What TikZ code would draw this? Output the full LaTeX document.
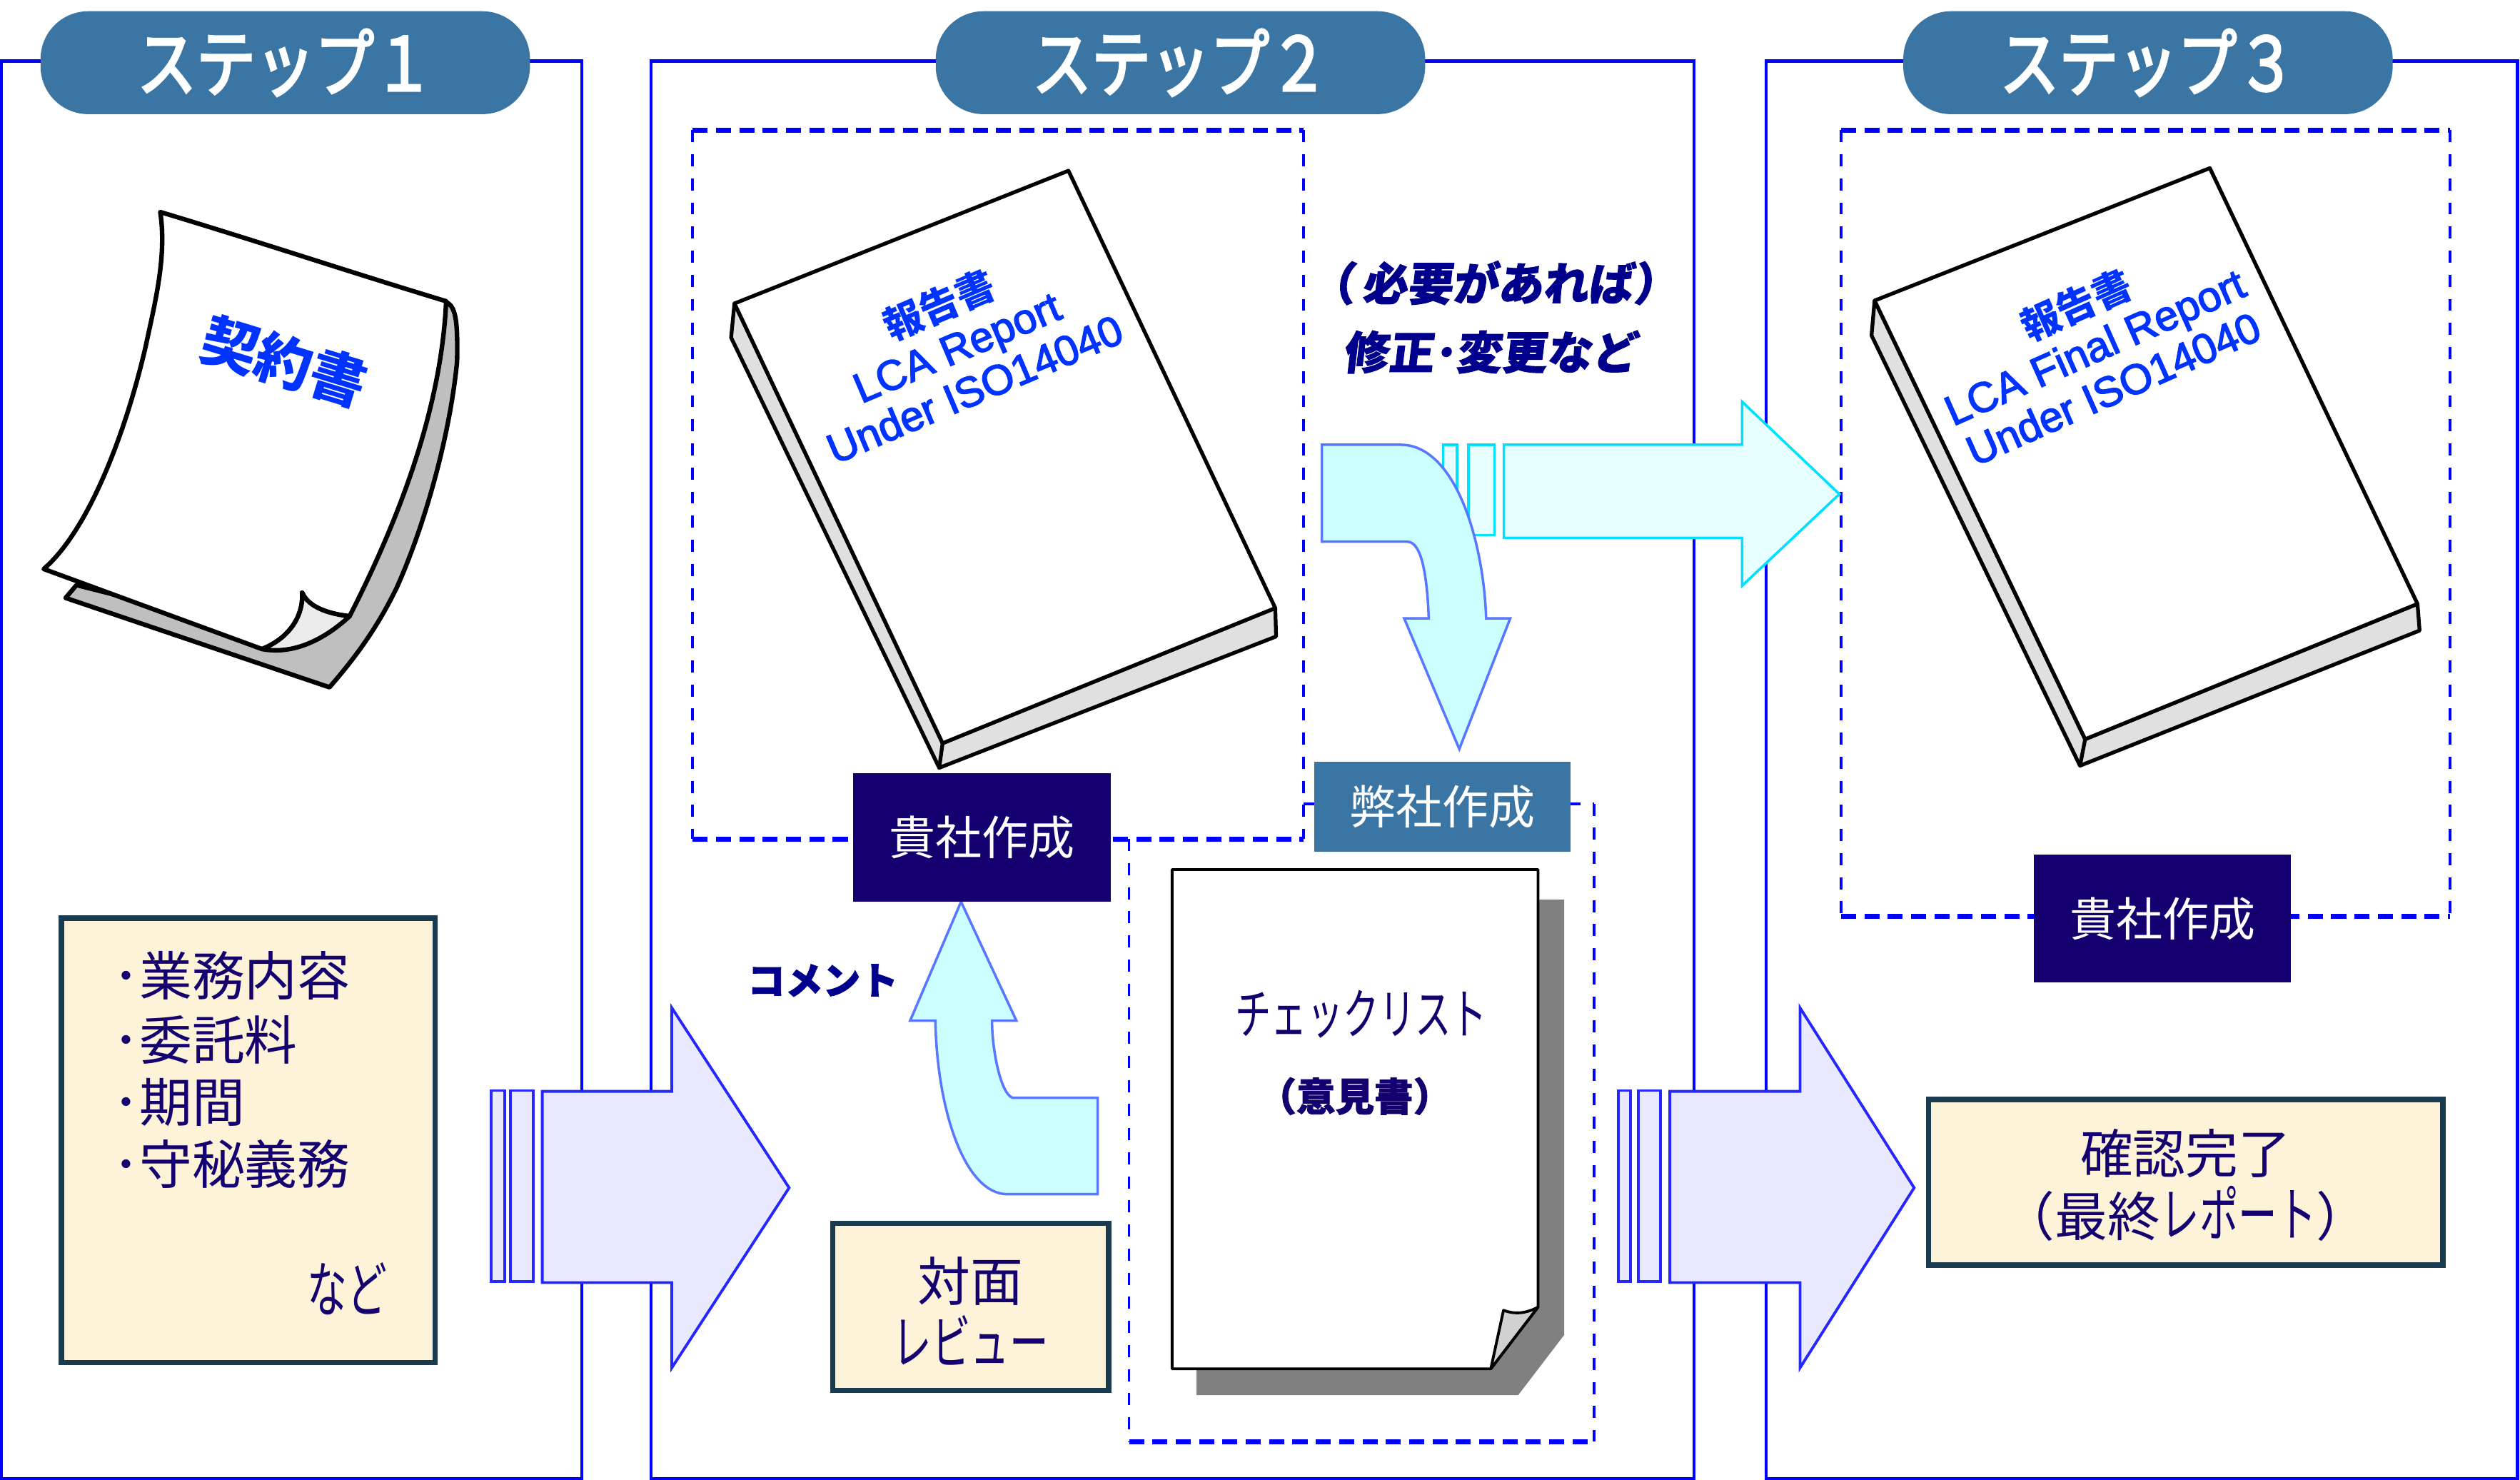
\documentclass[tikz,border=0pt]{standalone}
\usepackage{fontspec}
\setmainfont{Noto Sans CJK JP}
\newfontfamily\kanajp[FakeStretch=0.66, Scale=1.12]{Noto Sans CJK JP}
\newfontfamily\stepjp[FakeStretch=0.8, FakeBold=3]{Noto Sans CJK JP}
\newfontfamily\remarkjp[FakeSlant=0.12, BoldFeatures={FakeBold=1.5}]{Noto Sans CJK JP}
\newfontfamily\heavyjp[BoldFeatures={FakeBold=1.5}]{Noto Sans CJK JP}
\newfontfamily\latinbook[FakeBold=2.5]{Liberation Sans}
\newcommand{\reportword}{{\fontsize{15.5}{18.2}\selectfont\rmfamily\bfseries 報告書}}
\definecolor{panelblue}{RGB}{0,0,255}
\definecolor{badgeblue}{RGB}{58,117,163}
\definecolor{navy}{RGB}{20,0,110}
\definecolor{boxcream}{RGB}{253,243,217}
\definecolor{boxedge}{RGB}{26,58,80}
\definecolor{inkblue}{RGB}{0,0,140}
\definecolor{bookblue}{RGB}{0,51,255}
\definecolor{lavender}{RGB}{233,233,255}
\definecolor{paleaqua}{RGB}{232,255,255}
\definecolor{aqua}{RGB}{204,255,255}
\definecolor{aquaedge}{RGB}{90,120,255}
\definecolor{brightaqua}{RGB}{0,225,255}
\tikzset{
	panel/.style={panelblue, line width=1.25pt},
	dashside/.style={panelblue, line width=1.1pt, dash pattern=on 4.8pt off 4.8pt},
	dashflat/.style={panelblue, line width=2pt, dash pattern=on 6pt off 3.3pt},
	badge/.style={fill=badgeblue, text=white, rounded corners=19pt, minimum width=195pt, minimum height=41pt, inner sep=0pt, font=\stepjp\fontsize{29.5}{31}\selectfont},
	navybox/.style={fill=navy, text=white, minimum width=102.5pt, minimum height=51pt, inner sep=0pt, font=\fontsize{18.5}{20}\selectfont},
	tealbox/.style={fill=badgeblue, text=white, minimum width=102pt, minimum height=36pt, inner sep=0pt, font=\fontsize{18.5}{20}\selectfont},
	creambox/.style={fill=boxcream, draw=boxedge, line width=2.1pt, inner sep=0pt},
	bodytext/.style={text=navy, inner sep=0pt, align=center, font=\fontsize{21}{25}\selectfont},
	remark/.style={text=inkblue, inner sep=0pt, font=\remarkjp\bfseries\fontsize{18}{20}\selectfont},
	paper/.style={draw=black, fill=white, line width=1.8pt, line join=round},
	bookline/.style={draw=black, line width=1.5pt, line join=round},
	booktext/.style={text=bookblue, align=center, inner sep=0pt, font=\latinbook\fontsize{16.8}{18.2}\selectfont},
	bigarrow/.style={draw=panelblue!85!white, fill=lavender, line width=1.1pt},
	outarrow/.style={draw=brightaqua, fill=paleaqua, line width=1pt},
	bentarrow/.style={draw=aquaedge, fill=aqua, line width=1pt},
}
\begin{document}
\begin{tikzpicture}[x=0.022513cm, y=-0.022513cm]
	\useasboundingbox (0,0) rectangle (1568,920.8);

	% panels
	\draw[panel] (1,38) rectangle (362,920);
	\draw[panel] (405,38) rectangle (1054,920);
	\draw[panel] (1099,38) rectangle (1566.5,920);

	% dashed frames
	\foreach \xa/\ya/\yb in {431/81/522, 811/81/522, 992/500/897, 702.5/522/897, 1145.5/81/570, 1524.5/81/570}
		\draw[dashside] (\xa,\ya) -- (\xa,\yb);
	\foreach \y/\xa/\xb in {81/431/811, 522/431/811, 897/702.5/992, 81/1145.5/1524.5, 570/1145.5/1524.5}
		\draw[dashflat] (\xa,\y) -- (\xb,\y);
	\draw[dashside] (811,500) -- (992,500);

	% contract
	\draw[paper, fill=black!25] (275,187) .. controls (283,189) and (285,195) .. (284.4,225)
		.. controls (280,270) and (265,325) .. (247,365.3)
		.. controls (235,390) and (222,408) .. (205,427.6)
		-- (40.8,372) -- (47.6,364) -- (170,395) -- cycle;
	\draw[paper] (99.7,131.9) .. controls (160,150) and (220,170) .. (277.6,187.4)
		.. controls (275,245) and (255,310) .. (217.5,383.4)
		.. controls (205,382) and (192,378) .. (188,368.7)
		.. controls (189,385) and (178,398) .. (163,403.8)
		-- (27.2,354) .. controls (55,330) and (78,270) .. (90.6,215.7)
		.. controls (96,190) and (104,160) .. (99.7,131.9) -- cycle;
	\draw[paper, fill=black!8] (188,368.7) .. controls (189,385) and (178,398) .. (163,403.8)
		.. controls (185,408) and (205,395) .. (217.5,383.4)
		.. controls (205,382) and (192,378) .. (188,368.7) -- cycle;
	\node[rotate=-17, text=bookblue, inner sep=0pt, font=\bfseries\fontsize{22.5}{24}\selectfont] (contract) at (177,225) {契約書};

	% report, step 2
	\draw[bookline, fill=black!12] (457,188.8) -- (454.9,210) -- (584.4,477.7) -- (794,396) -- (793.5,378.3) -- (586.5,462.4) -- cycle;
	\draw[bookline] (586.5,462.4) -- (584.4,477.7);
	\draw[bookline, fill=white] (457,188.8) -- (664.8,106.2) -- (793.5,378.3) -- (586.5,462.4) -- cycle;
	\node[booktext, rotate=23] (reporta) at (595,215) {\reportword\\LCA Report\\Under ISO14040};

	% report, step 3
	\draw[bookline, fill=black!12] (1166.4,187) -- (1164.5,208.7) -- (1294.2,476.4) -- (1505.5,392.3) -- (1504.2,375.7) -- (1297.4,459.9) -- cycle;
	\draw[bookline] (1297.4,459.9) -- (1294.2,476.4);
	\draw[bookline, fill=white] (1166.4,187) -- (1375,104.6) -- (1504.2,375.7) -- (1297.4,459.9) -- cycle;
	\node[booktext, rotate=24] (reportb) at (1303,215) {\reportword\\LCA Final Report\\Under ISO14040};

	% checklist
	\fill[black!50] (957,559.7) -- (973.3,559.7) -- (973.3,830.5) -- (944.6,868) -- (744.5,868) -- (744.5,851) -- (927.6,851) -- cycle;
	\draw[paper, line width=1.1pt] (729.3,541) -- (957,541) -- (957,813.2) -- (927.6,851.6) -- (729.3,851.6) -- cycle;
	\draw[paper, line width=1.1pt, fill=black!18] (957,813.2) .. controls (950,817) and (943,818) .. (935.5,815.2) -- (927.6,851.6) -- cycle;
	\node[text=navy, inner sep=0pt, font=\kanajp\fontsize{19.4}{22}\selectfont] (checklist) at (847,631) {チェックリスト};
	\node[text=navy, inner sep=0pt, font=\heavyjp\bfseries\fontsize{15.5}{17}\selectfont] (opinion) at (843,682) {（意見書）};

	% arrows
	\foreach \xa/\xb in {305.7/314, 317.6/331.8, 1007/1014.5, 1019.5/1033}
		\draw[bigarrow] (\xa,678.5) rectangle (\xb,797.5);
	\foreach \xa/\xb/\xc in {337.4/418/491, 1039/1120/1191}
		\draw[bigarrow] (\xa,679) -- (\xb,679) -- (\xb,627) -- (\xc,739) -- (\xb,851) -- (\xb,798) -- (\xa,798) -- cycle;

	\foreach \xa/\xb in {898/906.6, 913.7/930}
		\draw[outarrow] (\xa,276.7) rectangle (\xb,333);
	\draw[outarrow] (935.7,276.7) -- (1084,276.7) -- (1084,250) -- (1144.5,307.4) -- (1084,364.4) -- (1084,334.6) -- (935.7,334.6) -- cycle;

	\draw[bentarrow] (822.5,276.7) -- (871.5,276.7) .. controls (905,276.7) and (923,335) .. (924.7,384.7)
		-- (939.7,384.7) -- (908,466) -- (873.7,384.7) -- (889,384.7)
		.. controls (888,360) and (885,337) .. (875.6,337) -- (822.5,337) -- cycle;
	\draw[bentarrow] (683,743) -- (627,743) .. controls (600,743) and (583,690) .. (582,635)
		-- (566.3,635) -- (598,561) -- (632.4,635) -- (617.3,635)
		.. controls (617,650) and (622,680) .. (630,683) -- (683,683) -- cycle;

	% remarks
	\node[remark] (needed) at (929.5,176) {（\,必要があれば）};
	\node[remark] (revise) at (927,219) {修正･変更など};
	\node[text=inkblue, inner sep=0pt, font=\heavyjp\bfseries\fontsize{15}{17}\selectfont] (comment) at (512,610) {コメント};

	% labels
	\node[navybox] (ownfirst) at (611,521) {貴社作成};
	\node[tealbox] (oursbox) at (897.5,502) {\raisebox{-1.5pt}{弊社作成}};
	\node[navybox] (ownlast) at (1345.5,571.5) {\raisebox{-1pt}{貴社作成}};

	\node[badge] (stepone) at (177.5,39) {ステップ１\hspace{10.5pt}};
	\node[badge] (steptwo) at (734.5,39) {ステップ２\hspace{10.5pt}};
	\node[badge] (stepthree) at (1336.5,39) {ステップ３\hspace{10.5pt}};

	\node[creambox, minimum width=149pt, minimum height=177pt] (terms) at (154.5,709.5) {};
	\foreach \y/\t in {607/業務内容, 647/委託料, 686/期間, 724/守秘義務}
		\node[bodytext, anchor=west] at (70,\y) {･\t};
	\node[bodytext, font=\kanajp\fontsize{21.5}{24}\selectfont] (etc) at (216,802) {など};
	\node[creambox, minimum width=110pt, minimum height=66.5pt] (faceview) at (604,813) {};
	\node[bodytext] (faceviewtext) at (604,815.5) {対面\\{\kanajp レビュー}};
	\node[creambox, minimum width=205pt, minimum height=66pt] (finished) at (1360,735.5) {};
	\node[bodytext] (finishedtext) at (1360,737.5) {確認完了\\（最終{\kanajp レポート}）};
\end{tikzpicture}
\end{document}
